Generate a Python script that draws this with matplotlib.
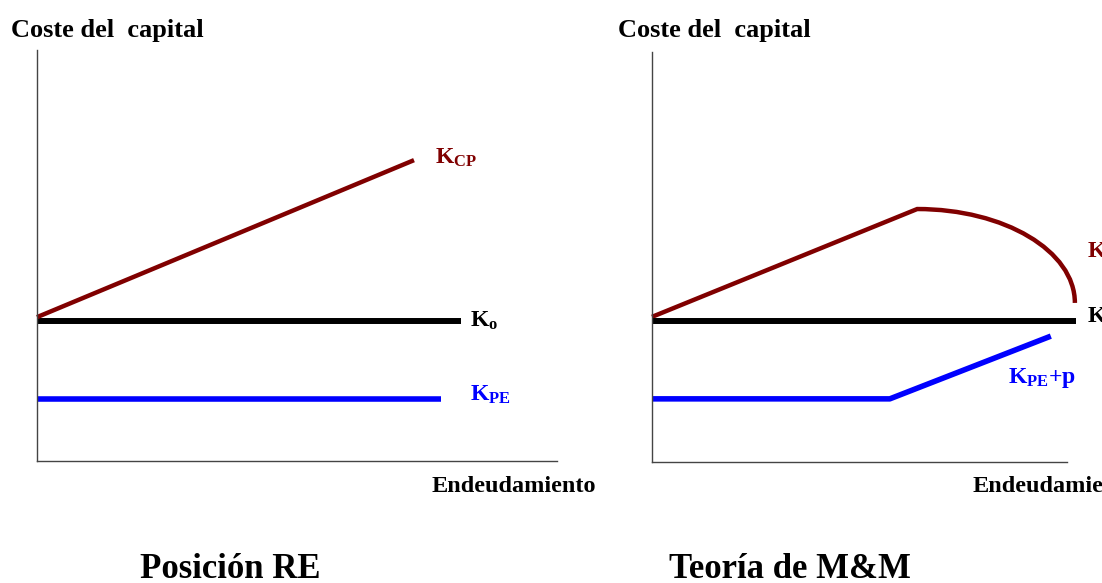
import matplotlib
matplotlib.use("Agg")
import matplotlib.pyplot as plt
from matplotlib.path import Path
from matplotlib.patches import PathPatch

plt.rcParams['font.family'] = ['Liberation Serif', 'DejaVu Serif']
plt.rcParams['mathtext.fontset'] = 'custom'
plt.rcParams['mathtext.rm'] = 'Liberation Serif:bold'
plt.rcParams['mathtext.it'] = 'Liberation Serif:italic:bold'
plt.rcParams['mathtext.bf'] = 'Liberation Serif:bold'

# ---- data (leverage on x, cost of capital on y; arbitrary units 0-100) ----
# Left panel: Posición RE
re_kcp_x = [0, 72.5]
re_kcp_y = [35.0, 73.2]
re_ko_x = [0, 81.5]
re_ko_y = [34.1, 34.1]
re_kpe_x = [0, 77.6]
re_kpe_y = [15.1, 15.1]

# Right panel: Teoría de M&M
# K_CP: straight rise, then a smooth bend down (Bezier control points)
mm_kcp_line_x = [0, 63.9]
mm_kcp_line_y = [35.4, 61.7]
mm_kcp_bend_x = [84.9, 101.9, 101.9]
mm_kcp_bend_y = [61.7, 51.5, 38.8]
mm_ko_x = [0, 102.2]
mm_ko_y = [34.5, 34.5]
mm_kpe_x = [0, 57.3, 96.1]
mm_kpe_y = [15.4, 15.4, 30.7]

y_label = "Coste del  capital"
x_label = "Endeudamiento"
titles = ["Posición RE", "Teoría de M&M"]

RED = "#800000"
BLUE = "#0000FF"
BLACK = "#000000"

W, H = 1102, 583
fig = plt.figure(figsize=(W / 100, H / 100), dpi=100)

def make_axes(x0, x1, ybot, ytop):
    ax = fig.add_axes([x0 / W, (H - ybot) / H, (x1 - x0) / W, (ybot - ytop) / H])
    ax.set_xlim(0, 100)
    ax.set_ylim(0, 100)
    for s in ("top", "right"):
        ax.spines[s].set_visible(False)
    for s in ("left", "bottom"):
        ax.spines[s].set_color("#444444")
        ax.spines[s].set_linewidth(1.0)
    ax.set_xticks([])
    ax.set_yticks([])
    ax.patch.set_alpha(0)
    return ax

ax1 = make_axes(37, 557, 461, 50)
ax2 = make_axes(652, 1067, 462, 52)

lbl = dict(fontfamily='Liberation Serif', fontweight='bold', clip_on=False)

# Left panel
ax1.plot(re_ko_x, re_ko_y, color=BLACK, lw=4.3, solid_capstyle='butt', clip_on=False)
ax1.plot(re_kcp_x, re_kcp_y, color=RED, lw=3.2, solid_capstyle='butt', clip_on=False)
ax1.plot(re_kpe_x, re_kpe_y, color=BLUE, lw=4.0, solid_capstyle='butt', clip_on=False)
ax1.text(76.5, 73.7, r'K$_{\mathrm{CP}}$', color=RED, fontsize=17, va='center', ha='left', **lbl)
ax1.text(83.3, 34.0, r'K$_{\mathrm{o}}$', color=BLACK, fontsize=17, va='center', ha='left', **lbl)
ax1.text(83.3, 16.0, r'K$_{\mathrm{PE}}$', color=BLUE, fontsize=17, va='center', ha='left', **lbl)

# Right panel
ax2.plot(mm_ko_x, mm_ko_y, color=BLACK, lw=4.3, solid_capstyle='butt', clip_on=False)
verts = list(zip(mm_kcp_line_x, mm_kcp_line_y)) + list(zip(mm_kcp_bend_x, mm_kcp_bend_y))
codes = [Path.MOVETO, Path.LINETO, Path.CURVE4, Path.CURVE4, Path.CURVE4]
ax2.add_patch(PathPatch(Path(verts, codes), facecolor='none', edgecolor=RED,
                        lw=3.2, capstyle='butt', joinstyle='miter', clip_on=False))
ax2.plot(mm_kpe_x, mm_kpe_y, color=BLUE, lw=4.0, solid_capstyle='butt', clip_on=False)
ax2.text(104.8, 51.2, r'K$_{\mathrm{CP}}$', color=RED, fontsize=17, va='center', ha='left', **lbl)
ax2.text(104.8, 35.5, r'K$_{\mathrm{o}}$', color=BLACK, fontsize=17, va='center', ha='left', **lbl)
ax2.text(85.8, 20.5, r'K$_{\mathrm{PE}}$+p', color=BLUE, fontsize=17, va='center', ha='left', **lbl)

# Axis titles
for xpx in (11, 618):
    fig.text(xpx / W, (H - 37) / H, y_label, fontsize=19, fontweight='bold',
             ha='left', va='baseline', fontfamily='Liberation Serif')
for xpx in (432, 973):
    fig.text(xpx / W, (H - 487) / H, x_label, fontsize=17.5, fontweight='bold',
             ha='left', va='center', fontfamily='Liberation Serif')

# Panel captions
for cx, t in zip((230, 790), titles):
    fig.text(cx / W, (H - 569) / H, t, fontsize=25, fontweight='bold',
             ha='center', va='center', fontfamily='Liberation Serif')

fig.savefig("out.png", dpi=100)
